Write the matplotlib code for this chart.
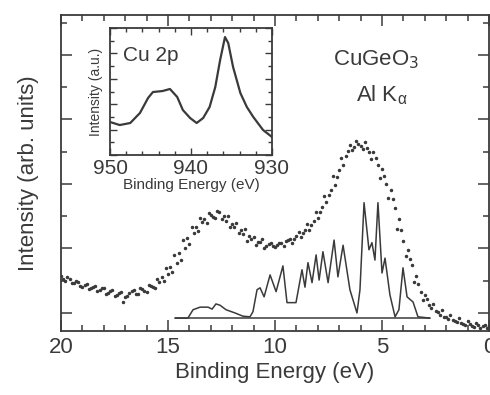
import numpy as np
import matplotlib
matplotlib.use("Agg")
import matplotlib.pyplot as plt
from matplotlib.ticker import MultipleLocator

plt.rcParams['font.family'] = ['Liberation Sans', 'DejaVu Sans']

# valence band XPS (dots), energies in eV, intensity in arb. units
exp_e = np.round(np.arange(20.0, -0.01, -0.2), 1)
exp_i = [0.58, 0.50, 0.53, 0.46, 0.48, 0.41, 0.45, 0.38, 0.42, 0.35,
         0.39, 0.31, 0.36, 0.28, 0.33, 0.24, 0.31, 0.35, 0.30, 0.37,
         0.33, 0.42, 0.39, 0.48, 0.50, 0.61, 0.64, 0.78, 0.82, 1.00,
         1.07, 1.24, 1.27, 1.41, 1.40, 1.52, 1.48, 1.57, 1.51, 1.50,
         1.38, 1.39, 1.28, 1.30, 1.19, 1.18, 1.10, 1.14, 1.04, 1.09,
         1.02, 1.09, 1.04, 1.13, 1.08, 1.19, 1.17, 1.28, 1.29, 1.43,
         1.47, 1.65, 1.72, 1.91, 1.99, 2.22, 2.30, 2.51, 2.52, 2.66,
         2.59, 2.65, 2.50, 2.49, 2.29, 2.23, 2.00, 1.90, 1.63, 1.45,
         1.12, 0.98, 0.74, 0.58, 0.33, 0.28, 0.12, 0.14, 0.01, 0.05,
         -0.07, -0.03, -0.12, -0.08, -0.17, -0.13, -0.20, -0.16, -0.23, -0.18,
         -0.21]
exp_e2 = np.round(np.arange(19.9, 0.0, -0.2), 1)
exp_i2 = [0.52, 0.55, 0.47, 0.50, 0.42, 0.44, 0.37, 0.41, 0.34, 0.38,
          0.30, 0.34, 0.26, 0.31, 0.17, 0.27, 0.34, 0.29, 0.38, 0.34,
          0.44, 0.40, 0.53, 0.55, 0.69, 0.71, 0.90, 0.93, 1.13, 1.16,
          1.33, 1.33, 1.47, 1.45, 1.55, 1.49, 1.58, 1.45, 1.43, 1.33,
          1.33, 1.24, 1.23, 1.12, 1.15, 1.06, 1.10, 1.01, 1.07, 1.04,
          1.06, 1.09, 1.11, 1.15, 1.14, 1.25, 1.24, 1.38, 1.37, 1.57,
          1.56, 1.82, 1.83, 2.12, 2.11, 2.41, 2.44, 2.60, 2.58, 2.62,
          2.55, 2.56, 2.38, 2.40, 2.10, 2.12, 1.79, 1.76, 1.30, 1.28,
          0.88, 0.84, 0.48, 0.45, 0.20, 0.22, 0.07, 0.03, -0.03, -0.06,
          -0.10, -0.11, -0.14, -0.16, -0.19, -0.17, -0.22, -0.19, -0.20, -0.24]

# calculated spectrum (line)
calc_e = [14.67, 14.07, 13.83, 13.50, 13.13, 12.94, 12.76, 12.57, 12.29, 11.87,
          11.50, 11.17, 11.03, 10.84, 10.70, 10.51, 10.23, 9.95, 9.63, 9.44,
          9.02, 8.74, 8.60, 8.46, 8.27, 8.08, 7.94, 7.76, 7.52, 7.24,
          7.06, 6.82, 6.50, 6.17, 6.03, 5.84, 5.61, 5.47, 5.33, 5.19,
          5.00, 4.86, 4.63, 4.39, 4.21, 4.02, 3.83, 3.55, 3.32, 2.76]
calc_i = [-0.08, -0.08, 0.05, 0.09, 0.09, 0.06, 0.14, 0.12, 0.05, 0.00,
          -0.05, -0.06, 0.02, 0.36, 0.39, 0.25, 0.59, 0.33, 0.73, 0.16,
          0.16, 0.67, 0.40, 0.78, 0.47, 0.90, 0.51, 0.95, 0.47, 1.13,
          0.56, 1.05, 0.36, 0.00, 0.36, 1.71, 0.98, 1.09, 0.82, 1.71,
          0.62, 0.85, 0.28, -0.06, 0.05, 0.70, 0.25, 0.17, -0.06, -0.08]
base_y = -0.08
base_e = [14.67, 2.76]

# inset: Cu 2p core level
cu_e = [950.0, 948.8, 947.5, 946.3, 945.3, 944.7, 943.5, 942.6, 941.7, 941.0,
        940.1, 939.3, 938.5, 937.7, 937.0, 936.4, 935.8, 935.4, 934.8, 933.9,
        933.1, 932.3, 931.1, 930.0]
cu_i = [0.26, 0.236, 0.252, 0.331, 0.449, 0.496, 0.504, 0.52, 0.457, 0.354,
        0.291, 0.252, 0.291, 0.378, 0.535, 0.748, 0.929, 0.882, 0.693, 0.488,
        0.378, 0.299, 0.197, 0.142]

ink = '#3a3a3a'
fig = plt.figure(figsize=(4.9, 3.95), dpi=100)
ax = fig.add_axes([0.1245, 0.162, 0.8735, 0.80])

ax.plot(exp_e, exp_i, '.', color=ink, ms=3)
ax.plot(exp_e2, exp_i2, '.', color=ink, ms=3)
ax.plot(calc_e, calc_i, '-', color=ink, lw=1.1)
ax.hlines(base_y, base_e[0], base_e[1], color=ink, lw=1.1)

ax.set_xlim(20, 0)
ax.set_ylim(-0.28, 4.62)
ax.xaxis.set_major_locator(MultipleLocator(5))
ax.xaxis.set_minor_locator(MultipleLocator(1))
ax.yaxis.set_major_locator(MultipleLocator(1))
ax.yaxis.set_minor_locator(MultipleLocator(0.5))
ax.set_yticklabels([])
ax.tick_params(which='both', direction='in', top=True, right=True,
               color=ink, width=1.1)
ax.tick_params(which='major', length=8, labelsize=16, labelcolor=ink, pad=4)
ax.tick_params(which='minor', length=4)
for s in ax.spines.values():
    s.set_color(ink)
    s.set_linewidth(1.3)
ax.set_xlabel('Binding Energy (eV)', fontsize=16, color=ink, labelpad=3)
ax.set_ylabel('Intensity (arb. units)', fontsize=16, color=ink, labelpad=12)

ax.text(0.735, 0.86, 'CuGeO$_3$', transform=ax.transAxes, fontsize=16,
        color=ink, ha='center', va='center')
ax.text(0.75, 0.745, 'Al K$_\\mathregular{α}$', transform=ax.transAxes,
        fontsize=16, color=ink, ha='center', va='center')

# inset
ins = fig.add_axes([0.2245, 0.6076, 0.3305, 0.3214])
ins.plot(cu_e, cu_i, '-', color=ink, lw=1.6)
ins.set_xlim(950, 930)
ins.set_ylim(0, 1)
ins.xaxis.set_major_locator(MultipleLocator(10))
ins.xaxis.set_minor_locator(MultipleLocator(2))
ins.yaxis.set_major_locator(MultipleLocator(0.2))
ins.yaxis.set_minor_locator(MultipleLocator(0.1))
ins.set_yticklabels([])
ins.tick_params(which='both', direction='in', top=True, right=True,
                color=ink, width=1.0)
ins.tick_params(which='major', length=5, labelsize=15, labelcolor=ink, pad=3)
ins.tick_params(which='minor', length=3)
for s in ins.spines.values():
    s.set_color(ink)
    s.set_linewidth(1.3)
ins.set_xlabel('Binding Energy (eV)', fontsize=11, color=ink, labelpad=0)
ins.set_ylabel('Intensity (a.u.)', fontsize=10, color=ink, labelpad=2)
ins.text(0.08, 0.78, 'Cu 2p', transform=ins.transAxes, fontsize=15,
         color=ink, ha='left', va='center')

fig.savefig('out.png', dpi=100)
